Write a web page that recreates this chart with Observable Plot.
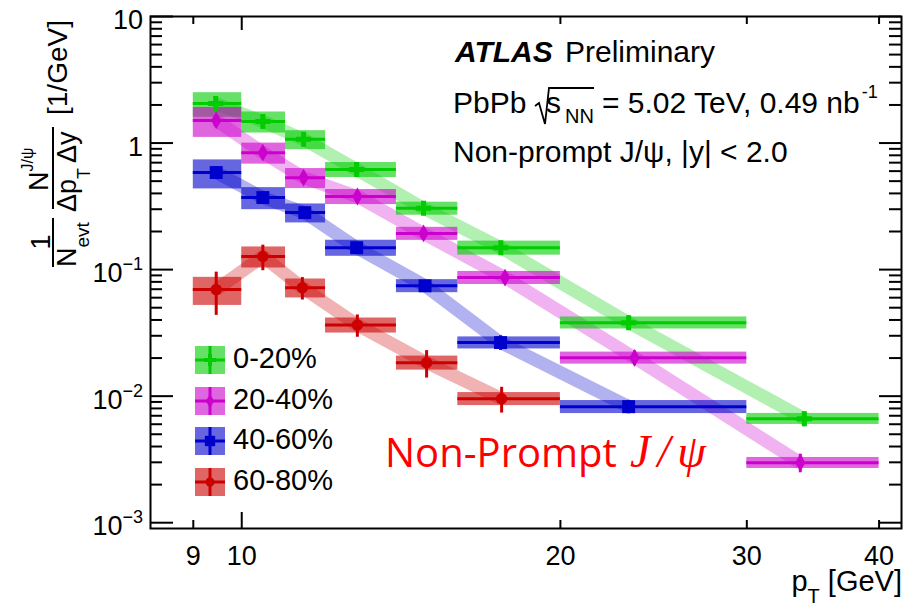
<!DOCTYPE html>
<html><head><meta charset="utf-8">
<script src="https://cdn.jsdelivr.net/npm/d3@7"></script>
<script src="https://cdn.jsdelivr.net/npm/@observablehq/plot@0.6"></script>
<style>body{margin:0;background:#fff}#chart{width:917px;height:610px}</style>
</head><body><div id="chart"></div>
<script>
// ---- data ----
const series = ["0-20%", "20-40%", "40-60%", "60-80%"];
const colors = ["#00cc00", "#cc00cc", "#0000cc", "#cc0000"];
const symbols = ["cross", "diamond", "square", "circle"];
const binLow  = [9, 10, 11, 12, 14, 16, 20, 30];
const binHigh = [10, 11, 12, 14, 16, 20, 30, 40];

const pt_0_20   = [9.45, 10.47, 11.44, 12.84, 14.85, 17.57, 23.2, 34.0];
const val_0_20  = [2.05, 1.48, 1.07, 0.618, 0.305, 0.149, 0.0381, 0.00664];
const stat_0_20 = [0.15, 0.09, 0.06, 0.035, 0.018, 0.012, 0.005, 0.0009];
const sys_0_20  = [0.22, 0.189, 0.171, 0.136, 0.118, 0.127, 0.109, 0.10];

const pt_20_40   = [9.46, 10.47, 11.44, 12.86, 14.85, 17.73, 23.5, 33.7];
const val_20_40  = [1.51, 0.84, 0.533, 0.378, 0.193, 0.0865, 0.0201, 0.00298];
const stat_20_40 = [0.10, 0.06, 0.035, 0.025, 0.013, 0.008, 0.0027, 0.0005];
const sys_20_40  = [0.266, 0.189, 0.18, 0.136, 0.118, 0.118, 0.109, 0.10];

const pt_40_60   = [9.46, 10.47, 11.47, 12.84, 14.9, 17.56, 23.2];
const val_40_60  = [0.585, 0.371, 0.282, 0.149, 0.0745, 0.0265, 0.00826];
const stat_40_60 = [0.04, 0.025, 0.018, 0.01, 0.005, 0.0035, 0.001];
const sys_40_60  = [0.258, 0.198, 0.171, 0.145, 0.118, 0.109, 0.118];

const pt_60_80   = [9.46, 10.47, 11.41, 12.86, 14.95, 17.6];
const val_60_80  = [0.0695, 0.127, 0.072, 0.0365, 0.0184, 0.00955];
const stat_60_80 = [0.026, 0.029, 0.0145, 0.0073, 0.0045, 0.0022];
const sys_60_80  = [0.25, 0.189, 0.171, 0.136, 0.127, 0.118];

const xTickLabels = [9, 10, 20, 30, 40];
const xMajorTicks = [10];
const xMinorTicks = [9, 20, 30, 40];
const yDecades = [1e-3, 1e-2, 1e-1, 1, 10];
const yTickLabels = ["10^−3", "10^−2", "10^−1", "1", "10"];

// ---- table ----
const pts = [pt_0_20, pt_20_40, pt_40_60, pt_60_80];
const vals = [val_0_20, val_20_40, val_40_60, val_60_80];
const stats = [stat_0_20, stat_20_40, stat_40_60, stat_60_80];
const syss = [sys_0_20, sys_20_40, sys_40_60, sys_60_80];
const rows = [];
series.forEach((s, i) => pts[i].forEach((pt, j) => rows.push({
  series: s, pt, lo: binLow[j], hi: binHigh[j], y: vals[i][j], stat: stats[i][j], sys: syss[i][j]
})));
const yMinor = [];
yDecades.slice(0, -1).forEach(d => { for (let k = 2; k <= 9; k++) yMinor.push(d * k); });

const FONT = "'Liberation Sans', Arial, Helvetica, sans-serif";
const W = 917, H = 610, ML = 150, MR = 16, MT = 16, MB = 82;
const PW = W - ML - MR, PH = H - MT - MB;
const markerR = [6.3, 5.4, 7.3, 5.7];

const plot = Plot.plot({
  width: W, height: H,
  marginLeft: ML, marginRight: MR, marginTop: MT, marginBottom: MB,
  style: {fontFamily: FONT, background: "white", color: "black"},
  x: {type: "log", domain: [8.2, 42], axis: null},
  y: {type: "log", domain: [9e-4, 10], axis: null},
  color: {domain: series, range: colors},
  marks: [
    Plot.line(rows, {x: "pt", y: "y", z: "series", stroke: "series", strokeWidth: 13, strokeOpacity: 0.3, strokeLinecap: "butt", strokeLinejoin: "round"}),
    Plot.rect(rows, {x1: "lo", x2: "hi", y1: d => d.y * (1 - d.sys), y2: d => d.y * (1 + d.sys), fill: "series", fillOpacity: 0.6}),
    Plot.ruleY(rows, {y: "y", x1: "lo", x2: "hi", stroke: "series", strokeWidth: 3}),
    Plot.ruleX(rows, {x: "pt", y1: d => d.y - d.stat, y2: d => d.y + d.stat, stroke: "series", strokeWidth: 3}),
    ...series.map((s, i) => Plot.dot(rows.filter(d => d.series === s), {x: "pt", y: "y", symbol: () => symbols[i], fill: colors[i], r: markerR[i], stroke: "none"})),
    // y ticks (inside, left and right)
    Plot.tickY(yDecades, {y: d => d, insetRight: PW - 23, strokeWidth: 2}),
    Plot.tickY(yMinor, {y: d => d, insetRight: PW - 12, strokeWidth: 2}),
    Plot.tickY(yDecades, {y: d => d, insetLeft: PW - 22, strokeWidth: 2}),
    Plot.tickY(yMinor, {y: d => d, insetLeft: PW - 12, strokeWidth: 2}),
    // x ticks (inside, bottom and top)
    Plot.tickX(xMajorTicks, {x: d => d, insetTop: PH - 16, strokeWidth: 2}),
    Plot.tickX(xMinorTicks, {x: d => d, insetTop: PH - 8, strokeWidth: 2}),
    Plot.tickX(xMajorTicks, {x: d => d, insetBottom: PH - 14, strokeWidth: 2}),
    Plot.tickX(xMinorTicks, {x: d => d, insetBottom: PH - 8, strokeWidth: 2}),
    Plot.frame({stroke: "black", strokeWidth: 2}),
    Plot.axisX({ticks: xTickLabels, tickSize: 0, tickPadding: 17, fontSize: 27, tickFormat: d => String(d), label: null})
  ]
});
document.getElementById("chart").appendChild(plot);

const svg = d3.select(plot);
const sy = plot.scale("y");

// y tick labels with superscripts
const yl = svg.append("g").attr("font-family", FONT).attr("fill", "black").attr("text-anchor", "end");
yDecades.forEach((v, i) => {
  const y0 = sy.apply(v);
  const [base, exp] = yTickLabels[i].split("^");
  const t = yl.append("text").attr("x", 143).attr("y", y0 + 13).attr("font-size", 27).text(base);
  if (exp) t.append("tspan").attr("font-size", 18).attr("dy", -12).text(exp);
});

// x axis title
const xt = svg.append("text").attr("font-family", FONT).attr("text-anchor", "end")
  .attr("x", 902).attr("y", 591).attr("font-size", 29).attr("fill", "black");
xt.append("tspan").text("p");
xt.append("tspan").attr("font-size", 20).attr("dy", 12).text("T");
xt.append("tspan").attr("dy", -12).text("\u00a0[GeV]");

// y axis title (rotated); group coords: x = -screenY, y = screenX
const g = svg.append("g").attr("transform", "rotate(-90)").attr("font-family", FONT).attr("fill", "black").attr("text-anchor", "start");
g.append("text").attr("x", -242).attr("y", 50).attr("text-anchor", "middle").attr("font-size", 27).text("1");
g.append("line").attr("x1", -267).attr("x2", -218).attr("y1", 53).attr("y2", 53).attr("stroke", "black").attr("stroke-width", 2);
const ne = g.append("text").attr("x", -267).attr("y", 76).attr("font-size", 27);
ne.append("tspan").text("N");
ne.append("tspan").attr("font-size", 19).attr("dy", 13).text("evt");
const nj = g.append("text").attr("x", -191).attr("y", 48).attr("font-size", 27);
nj.append("tspan").text("N");
nj.append("tspan").attr("font-size", 16).attr("dy", -15).text("J/ψ");
g.append("line").attr("x1", -209).attr("x2", -127).attr("y1", 53).attr("y2", 53).attr("stroke", "black").attr("stroke-width", 2);
const dn = g.append("text").attr("x", -212).attr("y", 76).attr("font-size", 27);
dn.append("tspan").text("Δp");
dn.append("tspan").attr("font-size", 18).attr("dy", 14).text("T");
dn.append("tspan").attr("dy", -14).attr("dx", 5).text("Δy");
g.append("text").attr("x", -115).attr("y", 67).attr("font-size", 28).text("[1/GeV]");

// ATLAS labels
const tl = svg.append("g").attr("font-family", FONT).attr("fill", "black").attr("font-size", 30).attr("text-anchor", "start");
tl.append("text").attr("x", 455).attr("y", 62).attr("font-weight", "bold").attr("font-style", "italic").text("ATLAS");
tl.append("text").attr("x", 565).attr("y", 62).text("Preliminary");
tl.append("text").attr("x", 453).attr("y", 113).text("PbPb");
// square-root sign drawn as a path with its overbar
tl.append("path").attr("d", "M535,106 L539,103 L545,124 L549,88 L594,88").attr("fill", "none").attr("stroke", "black").attr("stroke-width", 1.8).attr("stroke-linejoin", "miter");
tl.append("text").attr("x", 546).attr("y", 113).text("s");
tl.append("text").attr("x", 565).attr("y", 123).attr("font-size", 20).text("NN");
const eq = tl.append("text").attr("x", 602).attr("y", 113).text("= 5.02 TeV, 0.49 nb");
const eqLen = eq.node().getComputedTextLength();
tl.append("text").attr("x", 602 + eqLen + 2).attr("y", 98).attr("font-size", 18).text("-1");
tl.append("text").attr("x", 453).attr("y", 162).text("Non-prompt J/ψ, |y| < 2.0");

// legend
const lg = svg.append("g").attr("font-family", FONT).attr("text-anchor", "start");
const legY = [360, 401, 441, 482];
const symTypes = {cross: d3.symbolCross, diamond: d3.symbolDiamond, square: d3.symbolSquare, circle: d3.symbolCircle};
series.forEach((s, i) => {
  const cy = legY[i], x0 = 195, w = 30, h = 28;
  lg.append("rect").attr("x", x0).attr("y", cy - h / 2).attr("width", w).attr("height", h).attr("fill", colors[i]).attr("fill-opacity", 0.6);
  lg.append("line").attr("x1", x0).attr("x2", x0 + w).attr("y1", cy).attr("y2", cy).attr("stroke", colors[i]).attr("stroke-width", 3);
  lg.append("line").attr("x1", x0 + w / 2).attr("x2", x0 + w / 2).attr("y1", cy - h / 2).attr("y2", cy + h / 2).attr("stroke", colors[i]).attr("stroke-width", 3);
  const r = markerR[i] * 0.8;
  lg.append("path").attr("transform", `translate(${x0 + w / 2},${cy})`).attr("d", d3.symbol(symTypes[symbols[i]], Math.PI * r * r)()).attr("fill", colors[i]);
  lg.append("text").attr("x", 233).attr("y", cy + 8).attr("font-size", 29).attr("fill", "black").text(s);
});

// red annotation
const ra = svg.append("g").attr("fill", "#ff0000").attr("text-anchor", "start");
ra.append("text").attr("x", 385).attr("y", 467).attr("font-family", "'Open Sans', 'Noto Sans', sans-serif").attr("font-size", 40).text("Non-Prompt");
ra.append("text").attr("x", 630).attr("y", 467).attr("font-family", "'Liberation Serif', 'DejaVu Serif', serif").attr("font-style", "italic").attr("font-size", 46).attr("letter-spacing", 7).text("J/ψ");
</script></body></html>
